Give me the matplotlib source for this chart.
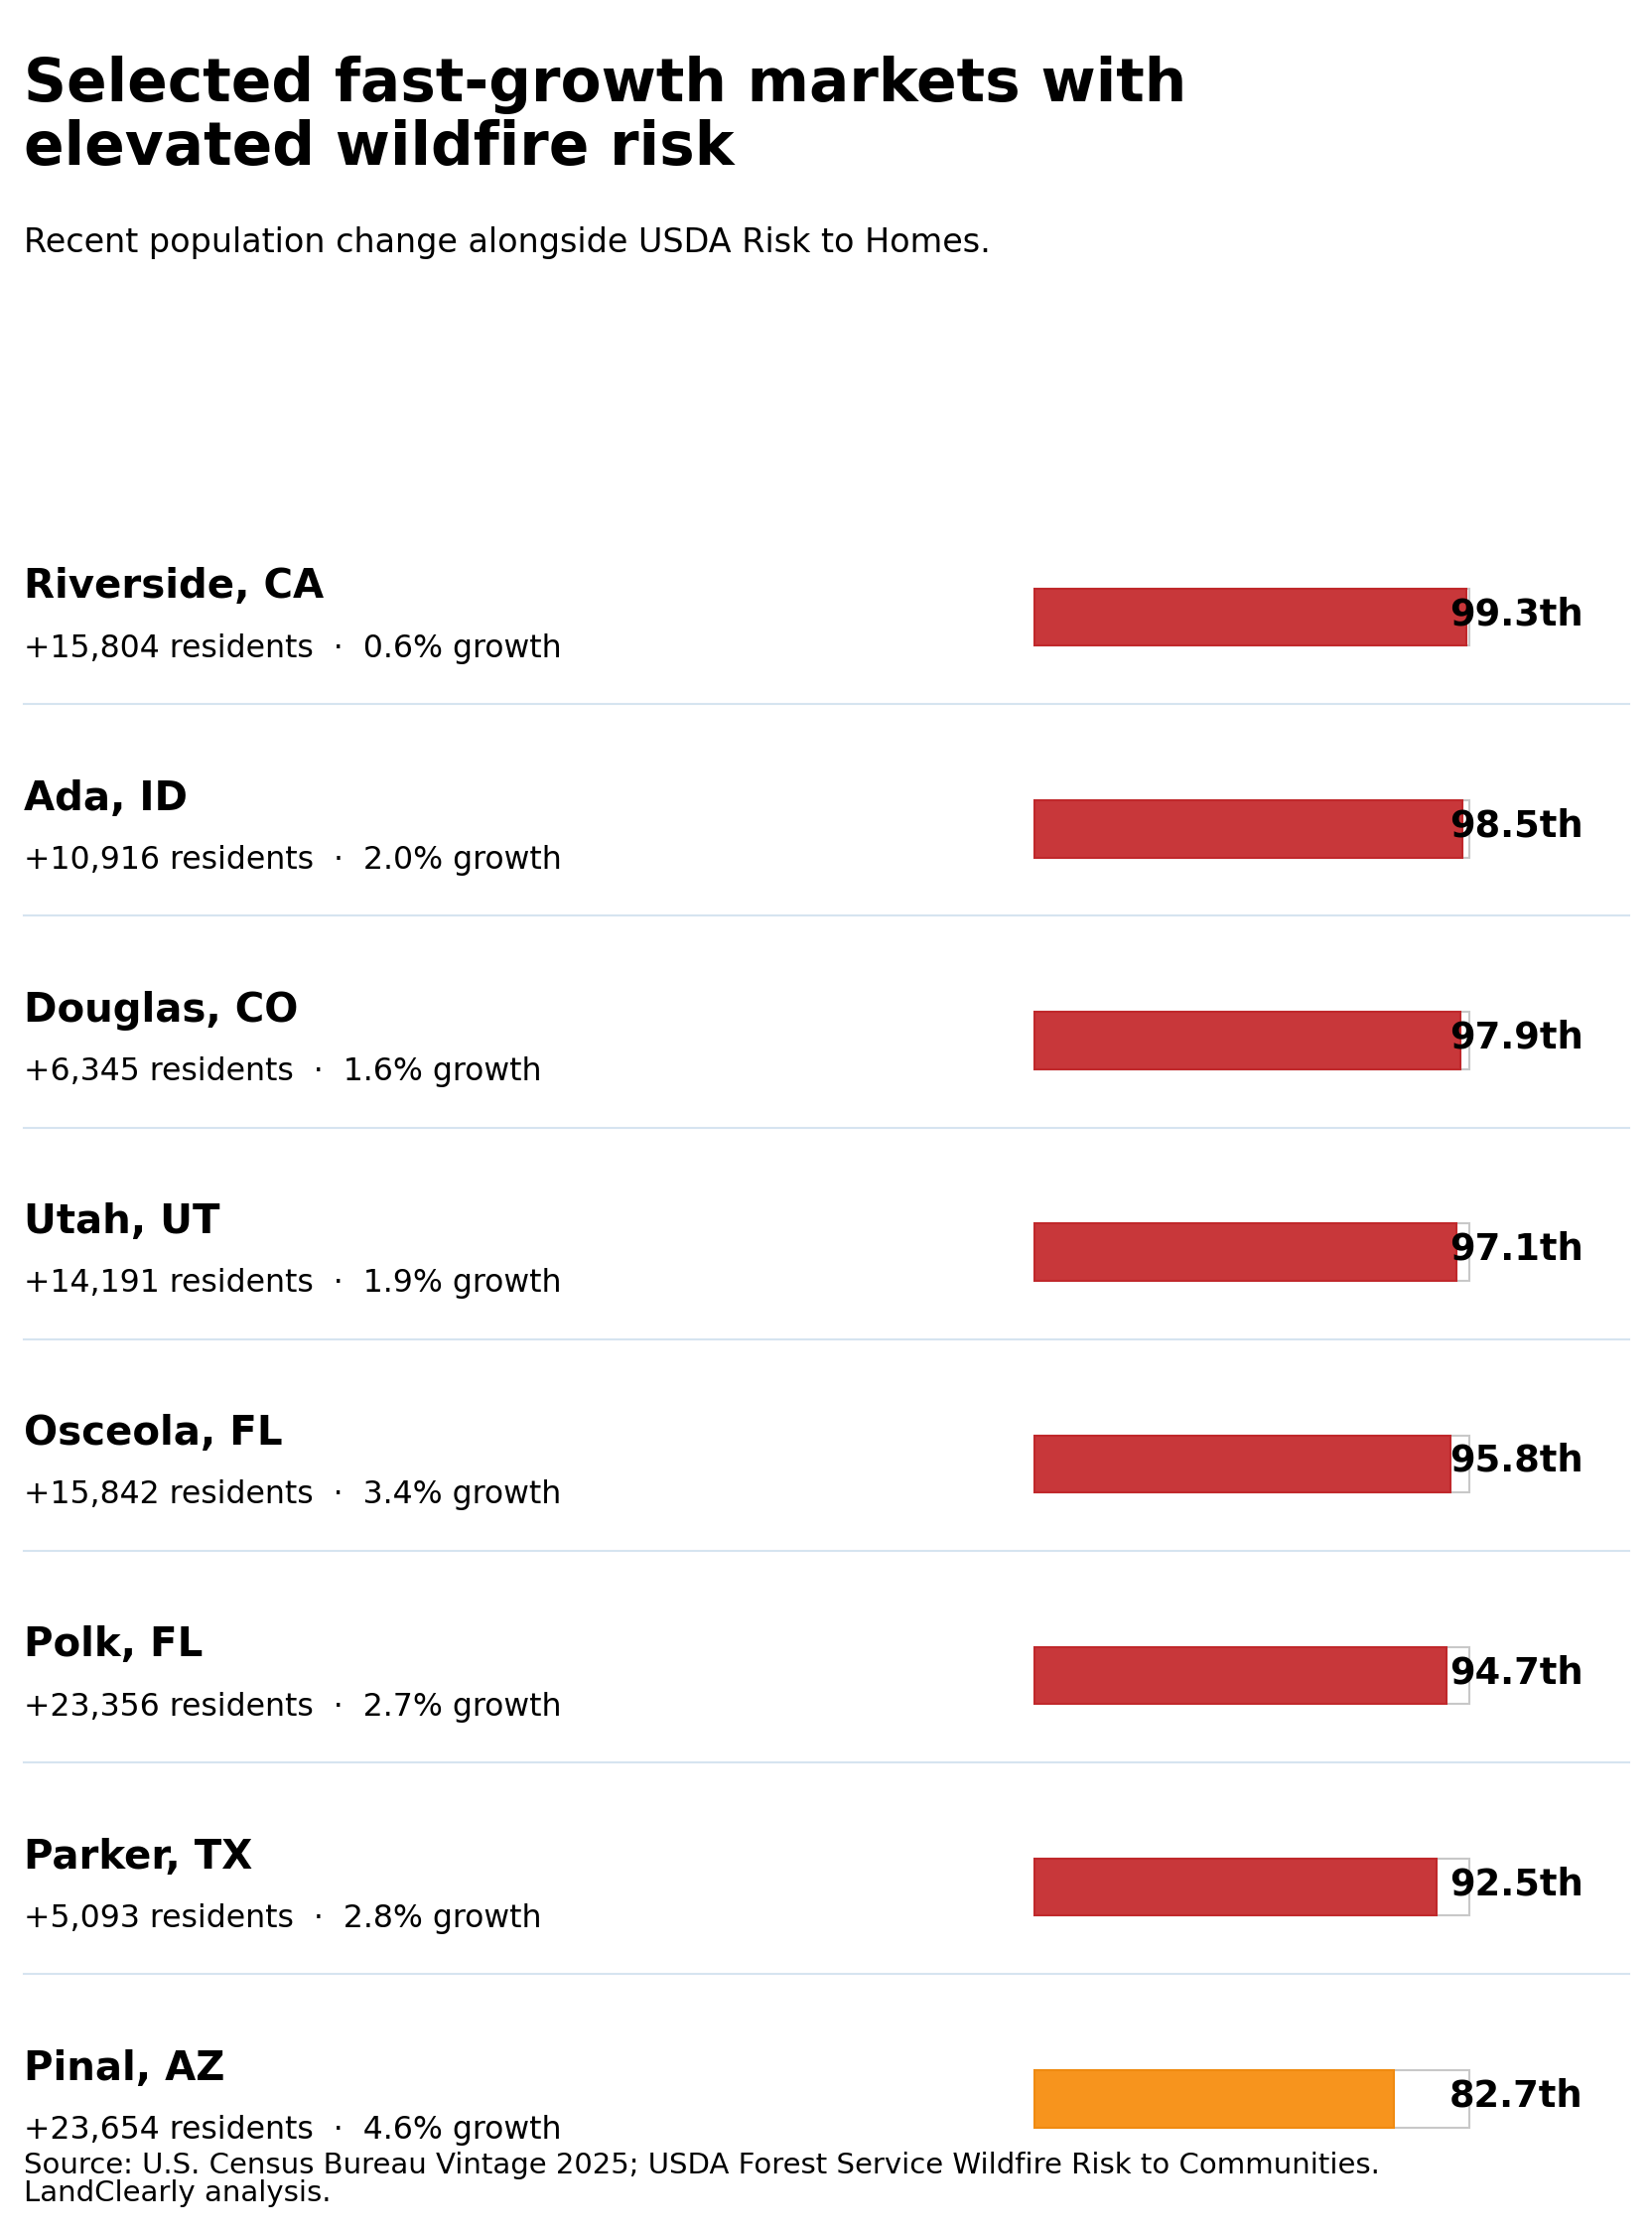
import matplotlib.pyplot as plt

names = ["Riverside, CA", "Ada, ID", "Douglas, CO", "Utah, UT", "Osceola, FL",
         "Polk, FL", "Parker, TX", "Pinal, AZ"]
residents = [15804, 10916, 6345, 14191, 15842, 23356, 5093, 23654]
growth = [0.6, 2.0, 1.6, 1.9, 3.4, 2.7, 2.8, 4.6]
risk = [99.3, 98.5, 97.9, 97.1, 95.8, 94.7, 92.5, 82.7]

W, H = 1160, 1568
fig = plt.figure(figsize=(16.65, 22.51), dpi=100)
ax = fig.add_axes([0, 0, 1, 1])
ax.set_xlim(0, W)
ax.set_ylim(H, 0)
ax.axis("off")

ax.text(17, 82, "Selected fast-growth markets with\nelevated wildfire risk", fontsize=43,
        fontweight="bold", va="center", linespacing=1.1)
ax.text(17, 170, "Recent population change alongside USDA Risk to Homes.", fontsize=24, va="center")

bar_x0, bar_w = 726, 305
for i, (n, r, g, v) in enumerate(zip(names, residents, growth, risk)):
    yc = 433 + i * 148.5
    ax.text(17, yc - 21, n, fontsize=29, fontweight="bold", va="center")
    ax.text(17, yc + 22, f"+{r:,} residents  ·  {g:.1f}% growth", fontsize=22.7, va="center")
    ax.barh(yc, bar_w, left=bar_x0, height=40, color="white", edgecolor="#c8c8c8", linewidth=1.5)
    col = "#c8373a" if v >= 90 else "#f7941d"
    ax.barh(yc, v / 100 * bar_w, left=bar_x0, height=40, color=col,
            edgecolor="#c0282b" if v >= 90 else "#f08a10", linewidth=1.5)
    ax.text(1017, yc - 2, f"{v}th", fontsize=26.5, fontweight="bold", va="center")
    if i < len(names) - 1:
        ax.plot([17, 1143], [yc + 61, yc + 61], color="#d6e4f0", lw=1.5)

ax.text(17, 1529, "Source: U.S. Census Bureau Vintage 2025; USDA Forest Service Wildfire Risk to Communities.\nLandClearly analysis.",
        fontsize=21, va="center", linespacing=1.0)

fig.savefig("out.png", dpi=100)
